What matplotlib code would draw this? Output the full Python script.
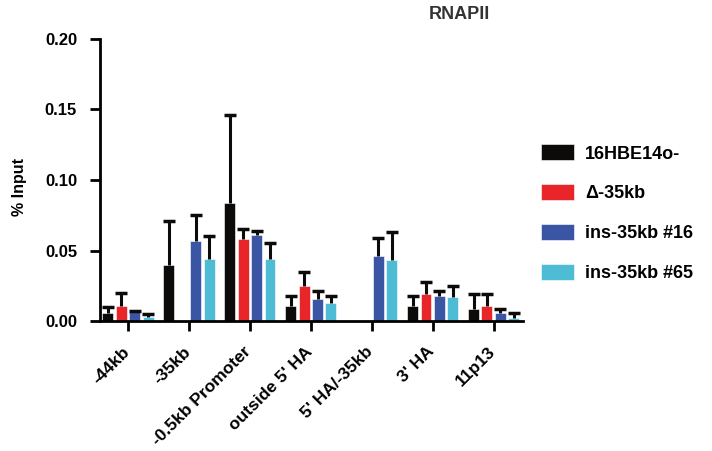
import numpy as np
from matplotlib import pyplot as plt

plt.rcParams['font.family'] = ['Liberation Sans', 'DejaVu Sans']
plt.rcParams['font.weight'] = 'bold'

# regions on the x axis
regions = ["-44kb", "-35kb", "-0.5kb Promoter", "outside 5' HA",
           "5' HA/-35kb", "3' HA", "11p13"]
# cell lines
lines = ["16HBE14o-", "Δ-35kb", "ins-35kb #16", "ins-35kb #65"]
colors = ["#0d0b0a", "#e8262a", "#3a55a4", "#4fbcd6"]

# mean % input per cell line (one value per region)
wt = [0.0057, 0.040, 0.084, 0.011, 0.0, 0.011, 0.0085]
delta = [0.011, 0.0, 0.058, 0.025, 0.0, 0.019, 0.011]
ins16 = [0.0064, 0.057, 0.061, 0.016, 0.046, 0.018, 0.0055]
ins65 = [0.003, 0.044, 0.044, 0.013, 0.043, 0.017, 0.0025]

# upper error (SD)
wt_err = [0.0043, 0.031, 0.062, 0.007, 0.0, 0.007, 0.0105]
delta_err = [0.009, 0.0, 0.007, 0.010, 0.0, 0.009, 0.008]
ins16_err = [0.0010, 0.018, 0.003, 0.005, 0.013, 0.003, 0.003]
ins65_err = [0.002, 0.016, 0.011, 0.005, 0.020, 0.008, 0.003]

means = [wt, delta, ins16, ins65]
errs = [wt_err, delta_err, ins16_err, ins65_err]

fig = plt.figure(figsize=(7.12, 4.51), dpi=100)
ax = fig.add_axes([0.1404, 0.288, 0.594, 0.626])

x = np.arange(len(regions))
w = 0.18
step = 0.22
for i in range(4):
    pos = x + (i - 1.5) * step
    vals = np.array(means[i])
    e = np.array(errs[i])
    keep = vals > 0
    ax.bar(pos[keep], vals[keep], width=w, color=colors[i], edgecolor='white',
           linewidth=0.4, label=lines[i], zorder=2)
    eb = ax.errorbar(pos[keep], vals[keep],
                     yerr=[np.zeros(keep.sum()), e[keep]],
                     fmt='none', ecolor='#0d0b0a', elinewidth=2.2,
                     capsize=4.5, capthick=2.5, zorder=3)
    # hide the lower caps (they sit on top of the bars)
    eb[1][0].set_visible(False)

ax.set_xlim(-0.46, 6.48)
ax.set_ylim(0, 0.20)
ax.set_yticks([0.0, 0.05, 0.10, 0.15, 0.20])
ax.set_yticklabels(["0.00", "0.05", "0.10", "0.15", "0.20"])
ax.set_xticks(x)
ax.set_xticklabels([])
# slanted region labels, placed a little left of each tick
for xi, name in zip(x, regions):
    ax.annotate(name, xy=(xi, 0), xycoords=ax.get_xaxis_transform(),
                xytext=(-4.5, -16.5), textcoords='offset points',
                rotation=45, ha='right', va='top', rotation_mode='anchor',
                fontsize=12.5, fontweight='bold')

for s in ['top', 'right']:
    ax.spines[s].set_visible(False)
for s in ['left', 'bottom']:
    ax.spines[s].set_linewidth(2)
ax.tick_params(axis='both', width=2, length=7.5)
ax.tick_params(axis='y', pad=9, labelsize=12)

fig.text(0.028, 0.585, "% Input", fontsize=11.5, fontweight='bold',
         rotation=90, ha='center', va='center')
fig.text(0.645, 0.968, "RNAPII", fontsize=13, fontweight='bold',
         color='#333333', ha='center', va='center')

fig.legend(loc='center left', bbox_to_anchor=(0.737, 0.527), frameon=False,
           fontsize=13, handlelength=1.83, handleheight=1.0,
           labelspacing=1.2, handletextpad=0.6)

plt.savefig("out.png", dpi=100)
